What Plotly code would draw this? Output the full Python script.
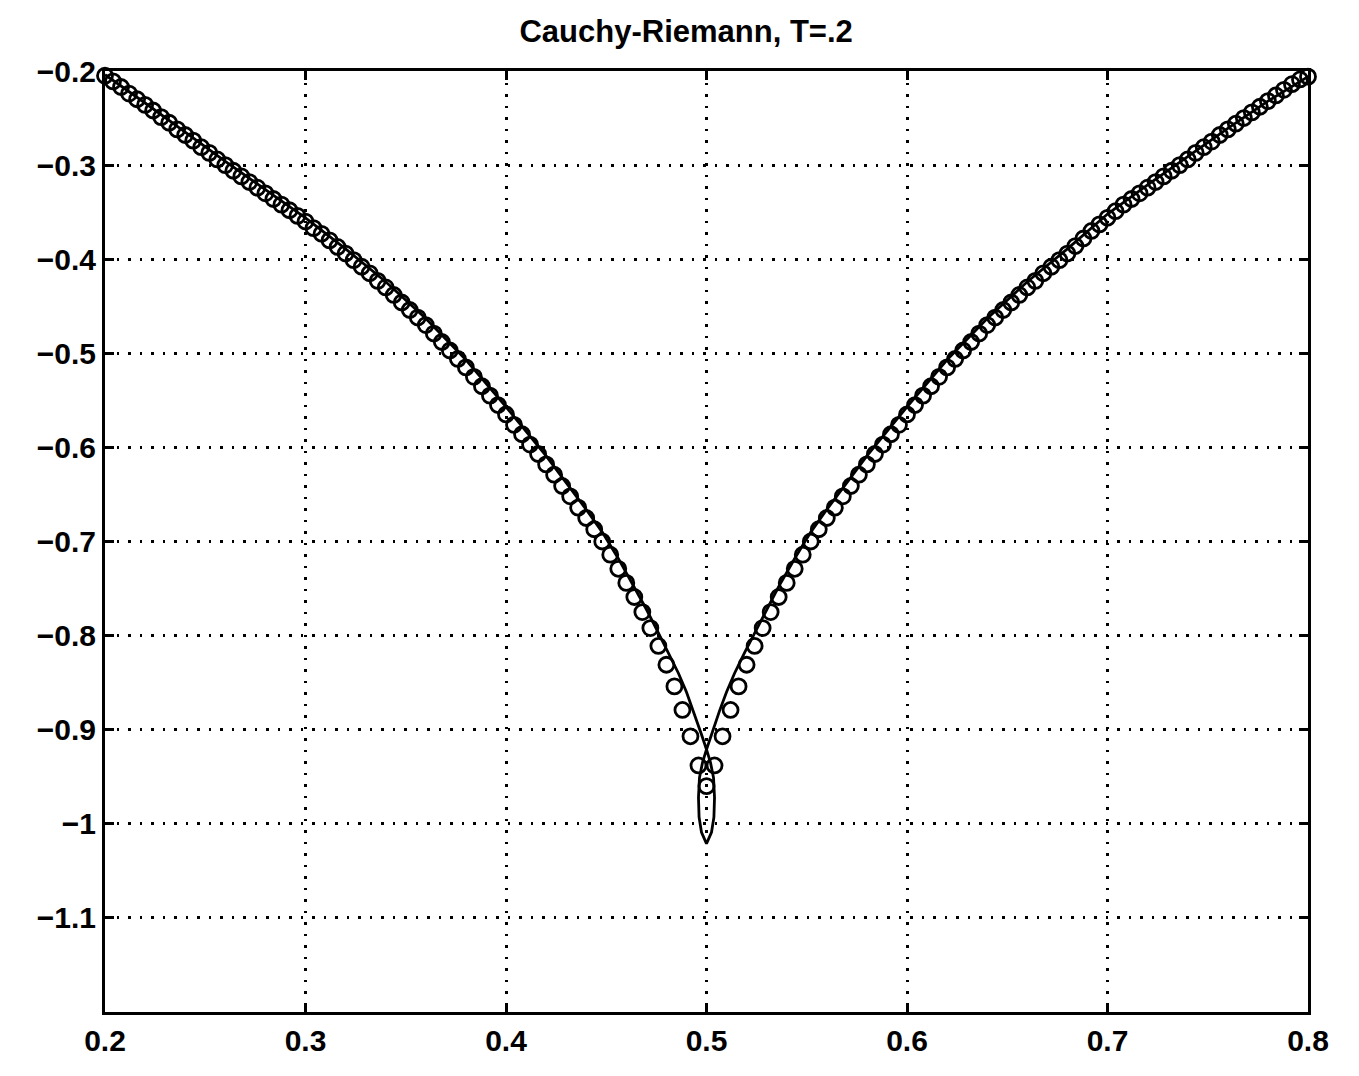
import plotly.graph_objects as go

# ---- data ----
# circles, left branch (x from 0.2 up to the cusp)
circ_left_x = [0.200, 0.204, 0.208, 0.212, 0.216, 0.220, 0.224, 0.228, 0.232, 0.236,
               0.240, 0.244, 0.248, 0.252, 0.256, 0.260, 0.264, 0.268, 0.272, 0.276,
               0.280, 0.284, 0.288, 0.292, 0.296, 0.300, 0.304, 0.308, 0.312, 0.316,
               0.320, 0.324, 0.328, 0.332, 0.336, 0.340, 0.344, 0.348, 0.352, 0.356,
               0.360, 0.364, 0.368, 0.372, 0.376, 0.380, 0.384, 0.388, 0.392, 0.396,
               0.400, 0.404, 0.408, 0.412, 0.416, 0.420, 0.424, 0.428, 0.432, 0.436,
               0.440, 0.444, 0.448, 0.452, 0.456, 0.460, 0.464, 0.468, 0.472, 0.476,
               0.480, 0.484, 0.488, 0.492, 0.496]
circ_left_y = [-0.205, -0.211, -0.217, -0.224, -0.230, -0.236, -0.242, -0.249, -0.255, -0.262,
               -0.268, -0.274, -0.281, -0.287, -0.294, -0.300, -0.306, -0.312, -0.318, -0.324,
               -0.330, -0.336, -0.342, -0.348, -0.354, -0.360, -0.367, -0.373, -0.380, -0.387,
               -0.394, -0.401, -0.408, -0.415, -0.423, -0.430, -0.438, -0.446, -0.454, -0.462,
               -0.470, -0.479, -0.488, -0.497, -0.506, -0.515, -0.525, -0.535, -0.545, -0.555,
               -0.565, -0.576, -0.586, -0.597, -0.607, -0.618, -0.629, -0.641, -0.652, -0.664,
               -0.675, -0.687, -0.700, -0.714, -0.729, -0.744, -0.759, -0.775, -0.792, -0.811,
               -0.831, -0.854, -0.879, -0.907, -0.938]
# circle at the cusp
circ_mid_x = [0.500]
circ_mid_y = [-0.960]
# circles, right branch
circ_right_x = [0.504, 0.508, 0.512, 0.516, 0.520, 0.524, 0.528, 0.532, 0.536, 0.540,
                0.544, 0.548, 0.552, 0.556, 0.560, 0.564, 0.568, 0.572, 0.576, 0.580,
                0.584, 0.588, 0.592, 0.596, 0.600, 0.604, 0.608, 0.612, 0.616, 0.620,
                0.624, 0.628, 0.632, 0.636, 0.640, 0.644, 0.648, 0.652, 0.656, 0.660,
                0.664, 0.668, 0.672, 0.676, 0.680, 0.684, 0.688, 0.692, 0.696, 0.700,
                0.704, 0.708, 0.712, 0.716, 0.720, 0.724, 0.728, 0.732, 0.736, 0.740,
                0.744, 0.748, 0.752, 0.756, 0.760, 0.764, 0.768, 0.772, 0.776, 0.780,
                0.784, 0.788, 0.792, 0.796, 0.800]
circ_right_y = [-0.938, -0.907, -0.879, -0.854, -0.831, -0.811, -0.792, -0.775, -0.759, -0.744,
                -0.729, -0.714, -0.700, -0.687, -0.675, -0.664, -0.652, -0.641, -0.629, -0.618,
                -0.607, -0.597, -0.586, -0.576, -0.565, -0.555, -0.545, -0.535, -0.525, -0.515,
                -0.506, -0.497, -0.488, -0.479, -0.470, -0.462, -0.454, -0.446, -0.438, -0.430,
                -0.423, -0.415, -0.408, -0.401, -0.394, -0.386, -0.378, -0.370, -0.363, -0.356,
                -0.349, -0.342, -0.336, -0.330, -0.324, -0.318, -0.312, -0.306, -0.300, -0.294,
                -0.287, -0.281, -0.275, -0.268, -0.262, -0.256, -0.250, -0.244, -0.238, -0.232,
                -0.226, -0.220, -0.214, -0.209, -0.206]

# solid curve (with the small loop under the cusp)
line_x = [0.200, 0.220, 0.240, 0.260, 0.280, 0.300, 0.320, 0.340, 0.360, 0.380,
          0.400, 0.420, 0.440, 0.448, 0.456, 0.464, 0.470, 0.476, 0.481, 0.486,
          0.490, 0.4935, 0.4975, 0.500, 0.502, 0.5035, 0.504, 0.5037, 0.5025, 0.500,
          0.4975, 0.4963, 0.496, 0.4965, 0.498, 0.500, 0.5025, 0.5065, 0.510, 0.514,
          0.519, 0.524, 0.530, 0.536, 0.544, 0.552, 0.560, 0.580, 0.600, 0.620,
          0.640, 0.660, 0.680, 0.700, 0.720, 0.740, 0.760, 0.780, 0.800]
line_y = [-0.204, -0.234, -0.265, -0.296, -0.326, -0.356, -0.389, -0.424, -0.463, -0.507,
          -0.557, -0.609, -0.666, -0.690, -0.718, -0.748, -0.772, -0.797, -0.818, -0.840,
          -0.860, -0.880, -0.905, -0.921, -0.935, -0.951, -0.972, -0.993, -1.009, -1.021,
          -1.009, -0.993, -0.972, -0.951, -0.935, -0.921, -0.905, -0.880, -0.860, -0.840,
          -0.818, -0.797, -0.772, -0.748, -0.718, -0.690, -0.666, -0.609, -0.557, -0.507,
          -0.463, -0.424, -0.389, -0.352, -0.321, -0.291, -0.261, -0.232, -0.206]

x_ticks = [0.2, 0.3, 0.4, 0.5, 0.6, 0.7, 0.8]
x_tick_labels = ["0.2", "0.3", "0.4", "0.5", "0.6", "0.7", "0.8"]
y_ticks = [-1.1, -1.0, -0.9, -0.8, -0.7, -0.6, -0.5, -0.4, -0.3, -0.2]
y_tick_labels = ["\u22121.1", "\u22121", "\u22120.9", "\u22120.8", "\u22120.7",
                 "\u22120.6", "\u22120.5", "\u22120.4", "\u22120.3", "\u22120.2"]

title_text = "Cauchy-Riemann, T=.2"

# ---- figure ----
FONT = "Liberation Sans, Arial, Helvetica, sans-serif"

fig = go.Figure()
fig.add_trace(go.Scatter(
    x=line_x, y=line_y, mode="lines",
    line=dict(color="black", width=2.8),
    cliponaxis=False, showlegend=False, hoverinfo="skip"))
fig.add_trace(go.Scatter(
    x=circ_left_x + circ_mid_x + circ_right_x,
    y=circ_left_y + circ_mid_y + circ_right_y,
    mode="markers",
    marker=dict(symbol="circle-open", size=15, color="black", line=dict(width=2.8)),
    cliponaxis=False, showlegend=False))

axis_common = dict(
    showline=True, linecolor="black", linewidth=3, mirror="allticks",
    ticks="inside", ticklen=9, tickwidth=2.5, tickcolor="black",
    showgrid=True, gridcolor="black", gridwidth=2.5, griddash="2.5px,9px",
    zeroline=False,
    tickfont=dict(family=FONT, size=30, color="black", weight="bold"),
)
fig.update_xaxes(range=[0.2, 0.8], tickvals=x_ticks, ticktext=x_tick_labels, **axis_common)
fig.update_yaxes(range=[-1.2, -0.2], tickvals=y_ticks, ticktext=y_tick_labels, **axis_common)

fig.update_layout(
    width=1359, height=1076, autosize=False,
    margin=dict(l=97, r=59, t=63, b=72),
    paper_bgcolor="white", plot_bgcolor="white",
    title=dict(text=title_text, x=0.499, xref="container", xanchor="center",
               y=1 - 23 / 1076, yref="container", yanchor="middle",
               font=dict(family=FONT, size=31, color="black", weight="bold")),
)

fig.write_html("out.html")
